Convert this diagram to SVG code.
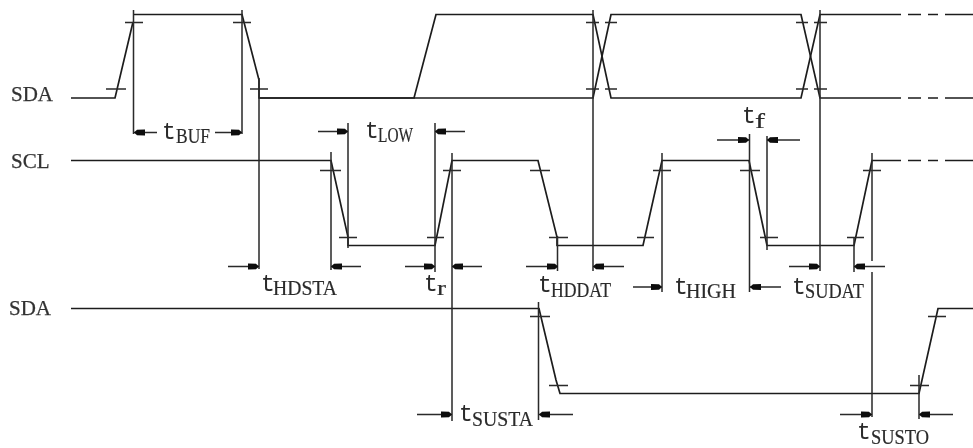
<svg xmlns="http://www.w3.org/2000/svg" width="973" height="448" viewBox="0 0 973 448">
<style>
.w{fill:none;stroke:#1c1c1c;stroke-width:1.7}
.g{fill:none;stroke:#2a2a2a;stroke-width:1.5}
.a{fill:none;stroke:#2a2a2a;stroke-width:1.5;marker-end:url(#h)}
.n{font-family:"Liberation Serif",serif;font-size:21px;fill:#333;stroke:#333;stroke-width:.25}
.l{font-family:"Liberation Mono",monospace;font-size:23px;fill:#2a2a2a}
.s{font-family:"Liberation Serif",serif;font-size:20px;fill:#2a2a2a;stroke:#2a2a2a;stroke-width:.2}
</style>
<defs>
<marker id="h" markerUnits="userSpaceOnUse" markerWidth="14" markerHeight="8" refX="12" refY="4" orient="auto"><path d="M1,1L9,1.2L12,4L9,6.800L1,7z" fill="#0c0c0c"/></marker>
<filter id="b" x="0" y="0" width="100%" height="100%"><feGaussianBlur stdDeviation="0.4"/></filter>
</defs>
<rect width="973" height="448" fill="#fff"/>
<g filter="url(#b)">
<g id="labels">
<text class="n" x="11" y="101">SDA</text>
<text class="n" x="11" y="168">SCL</text>
<text class="n" x="9" y="315">SDA</text>
</g>
<g id="waveforms">
<path id="sda-top-a" class="w" d="M71 98H115L133 22M133 14.500H242L259 80V98H414L436 14.500H593L611 98H801L820 14.500H901"/>
<path id="sda-top-b" class="w" d="M259 98H593L611 14.500H801L820 98H901"/>
<path id="scl" class="w" d="M71 160.500H331L348 237V245.500H435L452 160.500H538L557 237V245.500H643L662 160.500H749L767 245.500H854L872 160.500H901"/>
<path id="sda-bot" class="w" d="M71 308.500H539L556 380L560 393.500H919L938 308.500H973"/>
<path id="dashes" class="w" d="M908 14.500H921M928 14.500H938M945 14.500H973M908 98H921M928 98H938M945 98H973M908 160.500H921M928 160.500H938M945 160.500H973"/>
</g>
<g id="guides">
<path class="g" d="M133.500 10V134M242 10V134M259 78V269M331 152V270M348 123V248M435 123V272M452 153V421M538.500 302V420M557.500 236V271M593 10V271M662 153V292M749.500 134V292M767 136V250M820 10V271M854 237V272M872 153V261M872 272V417M919 375V419"/>
<path id="ticks" class="g" d="M125 22.500H143M233 22.500H251M106 89H126M250 89H268M586 22.500H599M605 22.500H617M586 89H599M605 89H617M796 22.500H808M814 22.500H827M796 89H808M814 89H827M320 170.500H341M443 170.500H461M530 170.500H550M653 170.500H671M740 170.500H760M863 170.500H881M339 237.500H357M427 237.500H444M549 237.500H568M637 237.500H654M760 237.500H778M847 237.500H864M530 316.500H550M549 385.500H568M910 385.500H929M928 316.500H946"/>
</g>
<g id="connectors">
<path class="a" d="M157 132.500H134"/><path class="a" d="M215 132.500H242"/>
<path class="a" d="M318 131.500H348"/><path class="a" d="M465 131.500H435"/>
<path class="a" d="M228 266.500H259"/><path class="a" d="M361 266.500H331"/>
<path class="a" d="M405 266.500H435"/><path class="a" d="M482 266.500H452"/>
<path class="a" d="M526 266.500H558"/><path class="a" d="M624 266.500H593"/>
<path class="a" d="M633 287H662"/><path class="a" d="M781 287H750"/>
<path class="a" d="M789 266.500H820"/><path class="a" d="M885 266.500H854"/>
<path class="a" d="M717 140H749"/><path class="a" d="M800 140H767"/>
<path class="a" d="M417 414.500H452"/><path class="a" d="M573 414.500H539"/>
<path class="a" d="M840 414.500H872"/><path class="a" d="M953 414.500H919"/>
</g>
<g id="timing-labels">
<text><tspan class="l" x="162" y="139">t</tspan><tspan class="s" x="176" y="143" textLength="34" lengthAdjust="spacingAndGlyphs">BUF</tspan></text>
<text><tspan class="l" x="365" y="138">t</tspan><tspan class="s" x="378" y="142" textLength="35" lengthAdjust="spacingAndGlyphs">LOW</tspan></text>
<text><tspan class="l" x="261" y="291">t</tspan><tspan class="s" x="273" y="295" textLength="64" lengthAdjust="spacingAndGlyphs">HDSTA</tspan></text>
<text><tspan class="l" x="424" y="291">t</tspan><tspan class="s" x="437" y="295" textLength="9" lengthAdjust="spacingAndGlyphs">r</tspan></text>
<text><tspan class="l" x="459" y="421">t</tspan><tspan class="s" x="472" y="426" textLength="61" lengthAdjust="spacingAndGlyphs">SUSTA</tspan></text>
<text><tspan class="l" x="538" y="292">t</tspan><tspan class="s" x="551" y="297" textLength="60" lengthAdjust="spacingAndGlyphs">HDDAT</tspan></text>
<text><tspan class="l" x="674" y="294">t</tspan><tspan class="s" x="686" y="298" textLength="50" lengthAdjust="spacingAndGlyphs">HIGH</tspan></text>
<text><tspan class="l" x="792" y="294">t</tspan><tspan class="s" x="805" y="298" textLength="59" lengthAdjust="spacingAndGlyphs">SUDAT</tspan></text>
<text><tspan class="l" x="742" y="123">t</tspan><tspan class="s" x="755" y="128" textLength="10" lengthAdjust="spacingAndGlyphs">f</tspan></text>
<text><tspan class="l" x="857" y="439">t</tspan><tspan class="s" x="871" y="444" textLength="58" lengthAdjust="spacingAndGlyphs">SUSTO</tspan></text>
</g>
</g>
</svg>
